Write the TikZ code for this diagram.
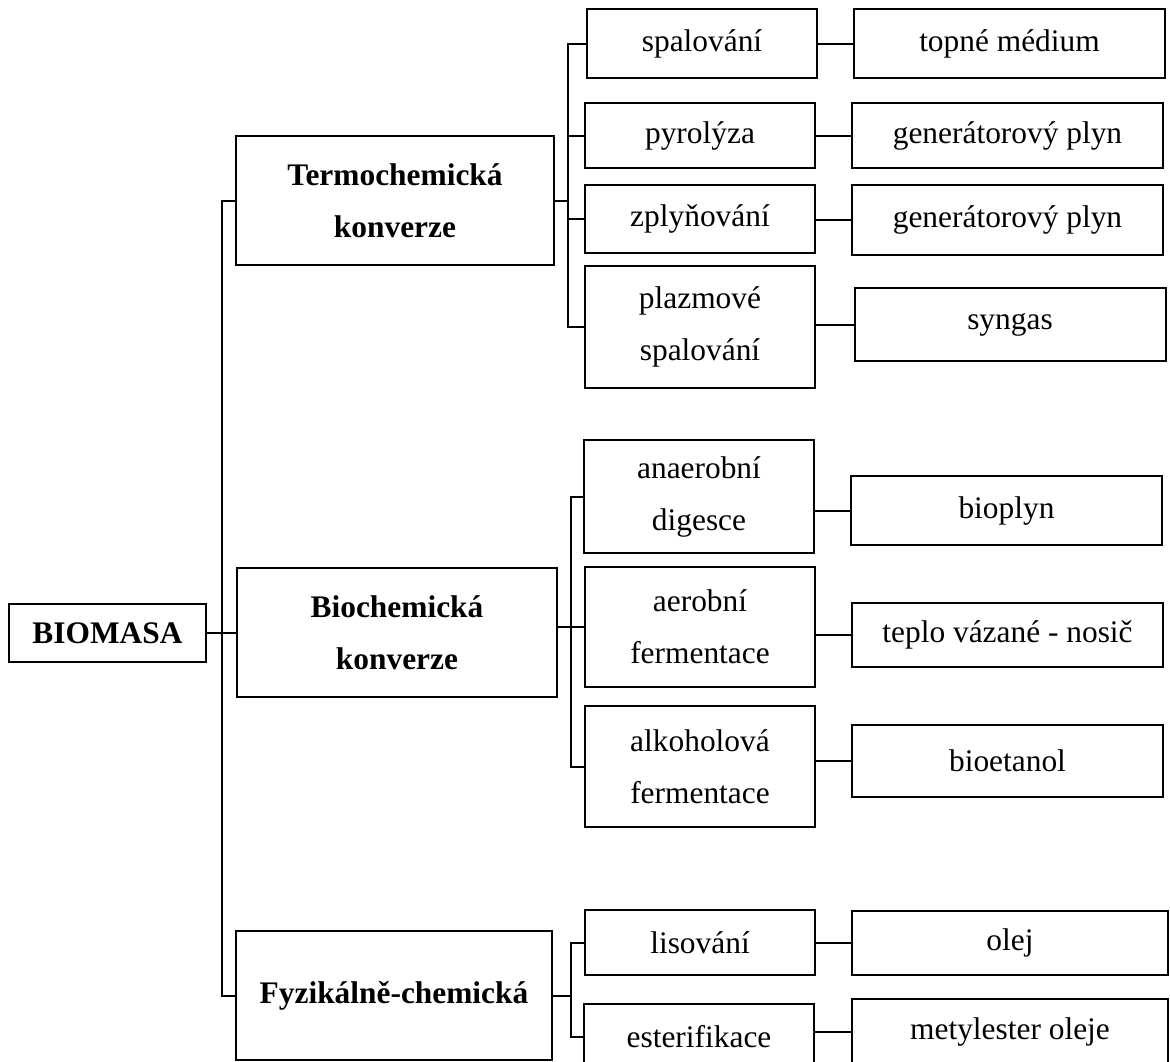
\documentclass[tikz,border=0pt]{standalone}
\usepackage{fontspec}
\setmainfont{Liberation Serif}
\usetikzlibrary{positioning}

\begin{document}
\begin{tikzpicture}[
        x=1pt, y=-1pt,
        box/.style={draw, line width=2pt, inner sep=0pt, align=center, font=\fontsize{31.4}{52}\selectfont},
        headbox/.style={box, font=\fontsize{31.4}{52}\selectfont\bfseries},
        midbox/.style={box, minimum width=230pt},
        endbox/.style={box, minimum width=311pt},
        link/.style={line width=2pt}
      ]
        \useasboundingbox (0,0) rectangle (1170,1061);

        % Source
        \node[headbox, minimum width=197pt, minimum height=58pt] (biomasa) at (107.5,633) {BIOMASA};

        % Conversion types
        \node[headbox, minimum width=318pt, minimum height=129pt] (termo) at (395,200.5) {Termochemická\\konverze};
        \node[headbox, minimum width=320pt, minimum height=129pt] (bio) at (397,632.5) {Biochemická\\konverze};
        \node[headbox, minimum width=316pt, minimum height=129pt] (fyz) at (394,995.5) {Fyzikálně-chemická};

        % Processes
        \node[midbox, minimum height=69pt] (spal) at (702,43.5) {spalování};
        \node[midbox, minimum height=65pt] (pyro) at (700,135.5) {pyrolýza};
        \node[midbox, minimum height=68pt] (zply) at (700,219) {zplyňování};
        \node[midbox, minimum height=122pt] (plaz) at (700,327) {plazmové\\spalování};
        \node[midbox, minimum height=113pt] (anaer) at (699,496.5) {anaerobní\\digesce};
        \node[midbox, minimum height=120pt] (aer) at (700,627) {aerobní\\fermentace};
        \node[midbox, minimum height=121pt] (alko) at (700,766.5) {alkoholová\\fermentace};
        \node[midbox, minimum height=65pt] (lis) at (700,942.5) {lisování};
        \node[midbox, minimum height=65pt] (ester) at (699,1036.5) {esterifikace};

        % Products
        \node[endbox, minimum height=69pt] (topne) at (1009.5,43.5) {topné médium};
        \node[endbox, minimum height=65pt] (gen1) at (1007.5,135.5) {generátorový plyn};
        \node[endbox, minimum height=70pt] (gen2) at (1007.5,220) {generátorový plyn};
        \node[endbox, minimum height=73pt] (syngas) at (1010,324.5) {syngas};
        \node[endbox, minimum height=69pt] (bioplyn) at (1006.5,510.5) {bioplyn};
        \node[endbox, minimum height=64pt] (teplo) at (1007.5,635) {teplo vázané - nosič};
        \node[endbox, minimum height=72pt] (bioetanol) at (1007.5,761) {bioetanol};
        \node[endbox, minimum width=316pt, minimum height=64pt] (olej) at (1010,943) {olej};
        \node[endbox, minimum width=316pt, minimum height=65pt] (metyl) at (1010,1031.5) {metylester oleje};

        % Brackets
        \coordinate (tk0) at (222,0);
        \coordinate (tk1) at (568,0);
        \coordinate (tk2) at (571,0);
        \draw[link] (termo.west) -| (tk0 |- fyz.west) -- (fyz.west);
        \draw[link] (biomasa.east) -- (biomasa.east -| bio.west);
        \draw[link] (spal.west) -| (tk1 |- plaz.west) -- (plaz.west);
        \draw[link] (termo.east) -- (termo.east -| tk1);
        \draw[link] (pyro.west) -- (pyro.west -| tk1);
        \draw[link] (zply.west) -- (zply.west -| tk1);
        \draw[link] (anaer.west) -| (tk2 |- alko.west) -- (alko.west);
        \draw[link] (aer.west) -- (aer.west -| bio.east);
        \draw[link] (lis.west) -| (tk2 |- ester.west) -- (ester.west);
        \draw[link] (fyz.east) -- (fyz.east -| tk2);

        % Process to product
        \foreach \a/\b in {spal/topne, pyro/gen1, zply/gen2, plaz/syngas, anaer/bioplyn, aer/teplo, alko/bioetanol, lis/olej, ester/metyl} {
            \draw[link] (\b.west) -- (\b.west -| \a.east);
        }
    \end{tikzpicture}
\end{document}
